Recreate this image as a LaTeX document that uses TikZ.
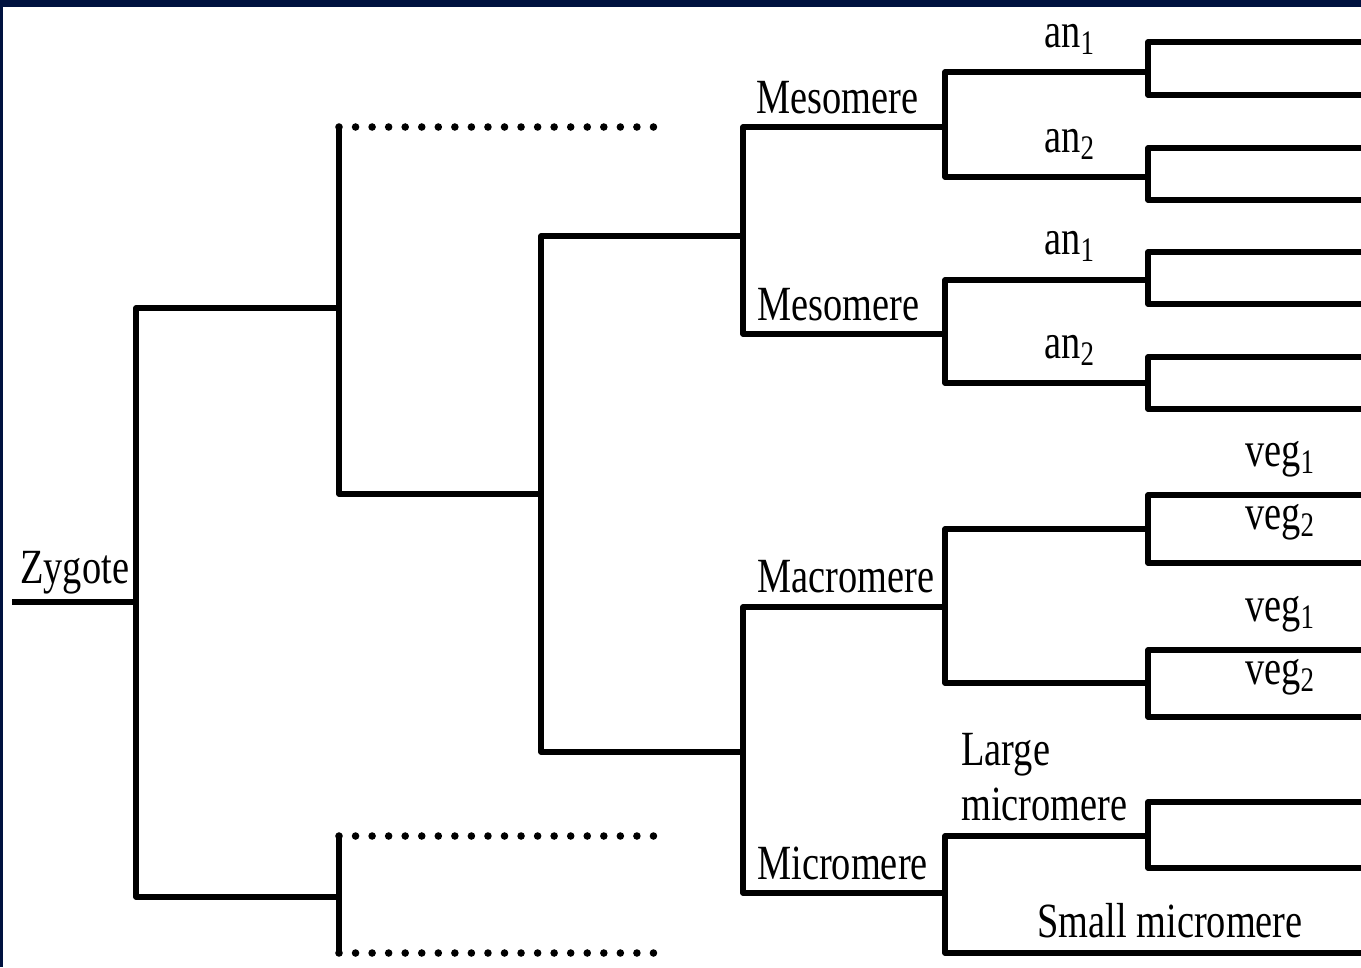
\documentclass[tikz,border=0pt]{standalone}
\usepackage{fontspec}
\setmainfont{Liberation Serif}[FakeStretch=0.78]
\usetikzlibrary{positioning}
\definecolor{framenavy}{HTML}{00123F}
\tikzstyle{branch} = [
    line width=3.1pt,
    line cap=butt,
    line join=round
]
\tikzstyle{dotbranch} = [
    line width=4.3pt,
    line cap=round,
    dash pattern=on 0pt off 9.42pt
]
\tikzstyle{cell} = [
    inner sep=0pt,
    anchor=base west,
    align=left,
    font=\fontsize{28}{31}\selectfont
]
\tikzstyle{tier} = [cell, anchor=base]

\begin{document}
\begin{tikzpicture}[x=0.02cm, y=-0.02cm]

\useasboundingbox (0,0) rectangle (1361,967);
\fill[white] (0,0) rectangle (1361,967);
\fill[framenavy] (0,0) rectangle (1361,7);
\fill[framenavy] (0,0) rectangle (2.5,967);

% split points
\coordinate (zin) at (12,602);
\coordinate (zyg) at (136,602);
\coordinate (two1) at (339,308);
\coordinate (two2) at (339,897);
\coordinate (dot1) at (656,127);
\coordinate (dot2) at (656,836);
\coordinate (dot3) at (656,953);
\coordinate (four) at (541,494);
\coordinate (eight1) at (743,236);
\coordinate (eight2) at (743,752);
\coordinate (meso1) at (945,127);
\coordinate (meso2) at (945,334);
\coordinate (macro) at (945,607);
\coordinate (micro) at (945,893);
\coordinate (ana1) at (1148,72);
\coordinate (ana2) at (1148,177);
\coordinate (anb1) at (1148,280);
\coordinate (anb2) at (1148,383);
\coordinate (vega) at (1148,529);
\coordinate (vegb) at (1148,683);
\coordinate (lmicro) at (1148,836);

% free ends at the right edge
\coordinate (e1) at (1361,42);
\coordinate (e2) at (1361,95);
\coordinate (e3) at (1361,148);
\coordinate (e4) at (1361,200);
\coordinate (e5) at (1361,252);
\coordinate (e6) at (1361,304);
\coordinate (e7) at (1361,357);
\coordinate (e8) at (1361,409);
\coordinate (e9) at (1361,495);
\coordinate (e10) at (1361,563);
\coordinate (e11) at (1361,650);
\coordinate (e12) at (1361,717);
\coordinate (e13) at (1361,802);
\coordinate (e14) at (1361,868);
\coordinate (e15) at (1361,953);

\node (zygote) [cell] at (20,583) {Zygote};
\node (mesotop) [cell] at (756,113) {Mesomere};
\node (mesobot) [cell] at (757,320) {Mesomere};
\node (macrolbl) [cell] at (757,592) {Macromere};
\node (microlbl) [cell] at (757,879) {Micromere};
\node (an1top) [cell] at (1044,47) {an\textsubscript{1}};
\node (an2top) [cell] at (1044,152) {an\textsubscript{2}};
\node (an1bot) [cell] at (1044,254) {an\textsubscript{1}};
\node (an2bot) [cell] at (1044,358) {an\textsubscript{2}};
\node (veg1top) [tier] at (1280,466) {veg\textsubscript{1}};
\node (veg2top) [tier] at (1280,529) {veg\textsubscript{2}};
\node (veg1bot) [tier] at (1280,621) {veg\textsubscript{1}};
\node (veg2bot) [tier] at (1280,684) {veg\textsubscript{2}};
\node (largelbl) [cell] at (961,820) {Large\\micromere};
\node (smalllbl) [cell] at (1037,937) {Small micromere};

\draw [branch] (zin) -- (zyg);
\draw [branch] (zyg) |- (two1);
\draw [branch] (zyg) |- (two2);

\draw [branch] (two1) -- (two1 |- dot1);
\draw [dotbranch] (two1 |- dot1) -- (dot1);
\draw [branch] (two1) |- (four);
\draw [branch] (two2) -- (two2 |- dot2);
\draw [branch] (two2) -- (two2 |- dot3);
\draw [dotbranch] (two2 |- dot2) -- (dot2);
\draw [dotbranch] (two2 |- dot3) -- (dot3);

\draw [branch] (four) |- (eight1);
\draw [branch] (four) |- (eight2);
\draw [branch] (eight1) |- (meso1);
\draw [branch] (eight1) |- (meso2);
\draw [branch] (eight2) |- (macro);
\draw [branch] (eight2) |- (micro);

\draw [branch] (meso1) |- (ana1);
\draw [branch] (meso1) |- (ana2);
\draw [branch] (meso2) |- (anb1);
\draw [branch] (meso2) |- (anb2);
\draw [branch] (macro) |- (vega);
\draw [branch] (macro) |- (vegb);
\draw [branch] (micro) |- (lmicro);
\draw [branch] (micro) |- (e15);

\draw [branch] (ana1) |- (e1);
\draw [branch] (ana1) |- (e2);
\draw [branch] (ana2) |- (e3);
\draw [branch] (ana2) |- (e4);
\draw [branch] (anb1) |- (e5);
\draw [branch] (anb1) |- (e6);
\draw [branch] (anb2) |- (e7);
\draw [branch] (anb2) |- (e8);
\draw [branch] (vega) |- (e9);
\draw [branch] (vega) |- (e10);
\draw [branch] (vegb) |- (e11);
\draw [branch] (vegb) |- (e12);
\draw [branch] (lmicro) |- (e13);
\draw [branch] (lmicro) |- (e14);

\end{tikzpicture}
\end{document}
